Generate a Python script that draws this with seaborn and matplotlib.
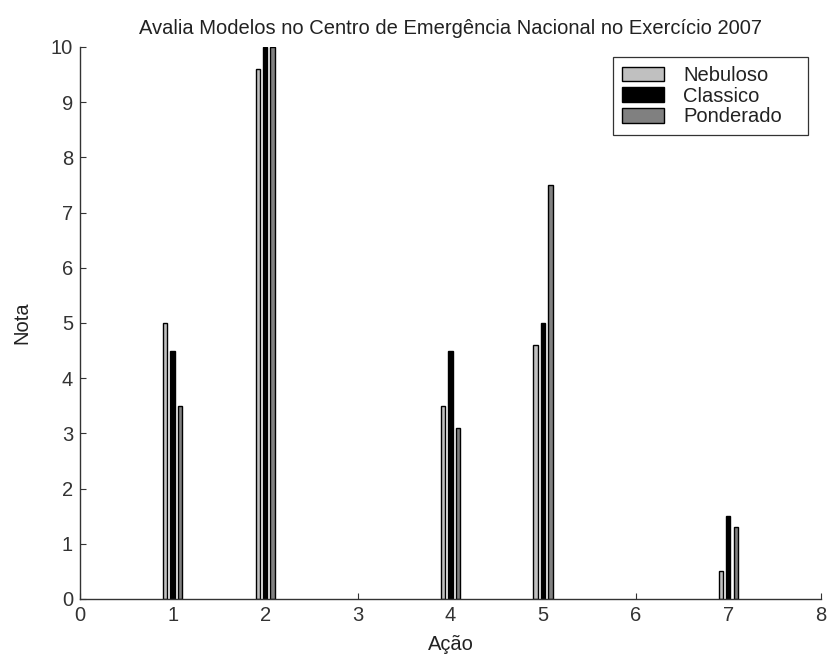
import matplotlib
matplotlib.use("Agg")
import matplotlib.pyplot as plt
import seaborn as sns
import pandas as pd

# Scores per action for each evaluation model
acoes = [1, 2, 4, 5, 7]
nebuloso = [5.0, 9.6, 3.5, 4.6, 0.5]
classico = [4.5, 10.0, 4.5, 5.0, 1.5]
ponderado = [3.5, 10.0, 3.1, 7.5, 1.3]
modelos = ["Nebuloso", "Classico", "Ponderado"]
cores = ["#c0c0c0", "#000000", "#808080"]

df = pd.DataFrame({
    "acao": acoes * 3,
    "nota": nebuloso + classico + ponderado,
    "modelo": [m for m in modelos for _ in acoes],
})

sns.set_theme(style="white")
plt.rcParams["font.family"] = ["Liberation Sans", "DejaVu Sans"]
fs = 14.5

fig = plt.figure(figsize=(8.3, 6.57), dpi=100)
ax = fig.add_axes([0.0964, 0.0883, 0.8926, 0.8402])

sns.barplot(data=df, x="acao", y="nota", hue="modelo", hue_order=modelos,
            palette=cores, native_scale=True, width=0.24, gap=0.42,
            edgecolor="black", linewidth=1.0, saturation=1, ax=ax)

ax.set_xlim(0, 8)
ax.set_ylim(0, 10)
ax.set_xticks(range(0, 9))
ax.set_yticks(range(0, 11))
ax.tick_params(direction="in", length=4, width=0.8, labelsize=fs,
               colors="#333333", left=True, bottom=True, pad=5)
for s in ["top", "right"]:
    ax.spines[s].set_visible(False)
for s in ["left", "bottom"]:
    ax.spines[s].set_color("#333333")
    ax.spines[s].set_linewidth(1.0)

ax.set_xlabel("Ação", fontsize=fs, color="#222222", labelpad=7)
ax.set_ylabel("Nota", fontsize=fs, color="#222222", labelpad=14)
ax.set_title("Avalia Modelos no Centro de Emergência Nacional no Exercício 2007",
             fontsize=fs, color="#222222", pad=9)

leg = ax.legend(loc="upper right", bbox_to_anchor=(0.719, 0.845, 0.263, 0.137),
                mode="expand", fontsize=fs,
                frameon=True, fancybox=False, edgecolor="black",
                handlelength=2.1, handleheight=0.75, borderpad=0.45,
                labelspacing=0.08, handletextpad=0.95, borderaxespad=0)
leg.get_frame().set_linewidth(0.9)
for t in leg.get_texts():
    t.set_color("#222222")

fig.savefig("out.png", dpi=100)
